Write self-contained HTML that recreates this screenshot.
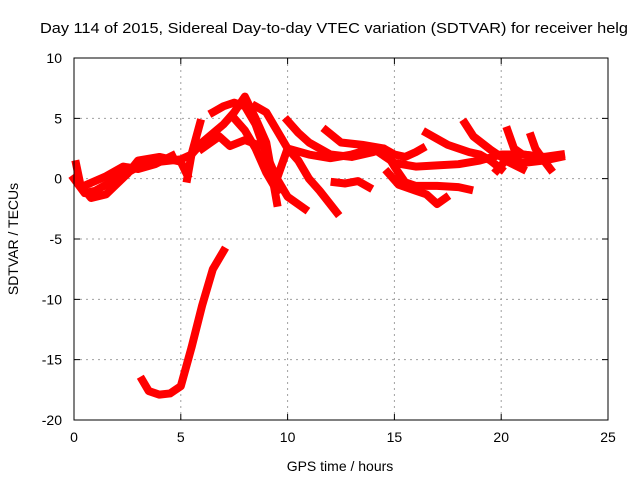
<!DOCTYPE html>
<html><head><meta charset="utf-8"><style>
html,body{margin:0;padding:0;background:#fff}
svg{display:block;font-family:"Liberation Sans",Arial,sans-serif}
</style></head><body>
<svg id="chart" width="640" height="480" viewBox="0 0 640 480">
<rect width="640" height="480" fill="#fff"/>
<text x="40" y="33" font-size="14.5" textLength="588" lengthAdjust="spacingAndGlyphs">Day 114 of 2015, Sidereal Day-to-day VTEC variation (SDTVAR) for receiver helg</text>
<g id="grid"></g>
<g id="axes"></g>
<g id="series"></g>
<rect x="74" y="58" width="534" height="362" fill="none" stroke="#000" stroke-width="1"/>
<text x="340" y="471" font-size="14" text-anchor="middle">GPS time / hours</text>
<text transform="translate(18,239) rotate(-90)" font-size="14" text-anchor="middle">SDTVAR / TECUs</text>
</svg>
<script>
const xTicks=[0,5,10,15,20,25];
const yTicks=[10,5,0,-5,-10,-15,-20];
const trackA=[[0,0],[0.5,-1.2],[1,-1],[2,0],[3,1],[4,1.4],[5,1.6],[5.5,2],[6,3],[7,4.5],[7.5,5.5],[8,6.8],[8.5,5],[9,3],[9.2,1],[9.5,-2]];
const trackB=[[5.3,0],[5.5,2],[5.9,4.6]];
const trackC=[[6.5,5.5],[7,6],[7.5,6.3],[8,6],[8.5,4.5],[9,2],[9.5,0],[10,-1.5],[10.8,-2.5]];
const trackD=[[8.5,6],[9,5.5],[9.5,4],[10,2.5],[11,2],[12,1.7],[13,2],[14,2.5],[15,1.3],[16,1],[17,1.1],[18,1.2],[19,1.5],[20,2],[21,2],[22,1.8],[22.8,2]];
const trackE=[[9.5,0],[10,2.5],[10.5,1.5],[11,0],[11.5,-1],[12.3,-2.8]];
const trackF=[[10,4.8],[10.5,3.8],[11,3],[12,2],[13,1.8],[14,2.2],[14.5,2.5],[15,1],[15.5,-0.3],[16,-0.6],[17,-0.6],[18,-0.7],[18.5,-0.9]];
const trackG=[[11.8,4],[12.5,3],[13.5,2.8],[14.5,2.5],[15,2],[15.5,1.8],[16,2.2],[16.3,2.5]];
const trackH=[[12.2,-0.3],[12.7,-0.4],[13.3,-0.2],[13.8,-0.7]];
const trackI=[[14.7,0.5],[15.2,-0.5],[16,-1],[16.5,-1.3],[17,-2.1],[17.4,-1.6]];
const trackJ=[[16.5,3.8],[17,3.3],[17.5,2.8],[18,2.5],[18.5,2.2],[19,2],[19.5,1.5],[20,0.8]];
const trackK=[[18.3,4.6],[18.7,3.5],[19.5,2.4],[20,1.8],[21,1.3],[22,1.5],[22.8,1.8]];
const trackL=[[20.3,4],[20.6,2.5],[21,2],[22,1.8]];
const trackM=[[21.4,3.5],[21.6,2.5],[22,1.5],[22.3,0.8]];
const trackN=[[19.8,0.7],[20.2,1.5],[21,0.8]];
const trackO=[[6,2.5],[6.8,3.5],[7.3,2.7],[8,3.2],[8.6,2.8]];
const trackP=[[7.5,5],[8,4],[8.5,2.5],[9,0.5],[9.5,-1]];
const trackQ=[[3.2,-16.7],[3.5,-17.6],[4,-17.9],[4.5,-17.8],[5,-17.2],[5.5,-14],[6,-10.5],[6.5,-7.5],[7,-6]];
const trackR=[[0.1,1.2],[0.3,-0.5],[0.8,-1.6],[1.5,-1.3],[2.5,0.4],[3,1.5],[4,1.8],[5,1.4],[5.3,0.3]];
const trackS=[[0.6,-0.5],[1.5,0.2],[2.3,1],[3,0.8],[3.8,1.2],[4.6,1.9]];
const tracks=[trackA,trackB,trackC,trackD,trackE,trackF,trackG,trackH,trackI,trackJ,trackK,trackL,trackM,trackN,trackO,trackP,trackQ,trackR,trackS];

const NS="http://www.w3.org/2000/svg";
const X0=74,X1=608,Y0=420,Y1=58,xMin=0,xMax=25,yMin=-20,yMax=10;
const sx=v=>X0+(v-xMin)/(xMax-xMin)*(X1-X0);
const sy=v=>Y0-(v-yMin)/(yMax-yMin)*(Y0-Y1);
function mk(tag,attrs,parent){const e=document.createElementNS(NS,tag);for(const k in attrs)e.setAttribute(k,attrs[k]);parent.appendChild(e);return e;}
const grid=document.getElementById('grid'),axes=document.getElementById('axes'),ser=document.getElementById('series');
xTicks.forEach(t=>{
  const x=sx(t);
  if(t>xMin&&t<xMax){const g=mk('line',{x1:x,x2:x,y1:Y0,y2:Y1,stroke:'#a0a0a0','stroke-dasharray':'2,4'},grid);
  
  }
  const tk=mk('path',{d:`M${x},${Y0}v-6M${x},${Y1}v6`,stroke:'#000'},axes);
  
  
  const lb=mk('text',{x:x,y:Y0+22,'font-size':14,'text-anchor':'middle'},axes);
  lb.textContent=t;
  
  
});
yTicks.forEach(t=>{
  const y=sy(t);
  if(t>yMin&&t<yMax){const g=mk('line',{x1:X0,x2:X1,y1:y,y2:y,stroke:'#a0a0a0','stroke-dasharray':'2,4'},grid);
  
  }
  const tk=mk('path',{d:`M${X0},${y}h6M${X1},${y}h-6`,stroke:'#000'},axes);
  
  
  const lb=mk('text',{x:X0-12,y:y+5,'font-size':14,'text-anchor':'end'},axes);
  lb.textContent=t;
  
  
});
tracks.forEach(tr=>{
  const p=mk('polyline',{points:tr.map(d=>sx(d[0])+','+sy(d[1])).join(' '),fill:'none',stroke:'#ff0000','stroke-width':8,'stroke-linejoin':'round','stroke-linecap':'square'},ser);
  
  
});
</script>
</body></html>
